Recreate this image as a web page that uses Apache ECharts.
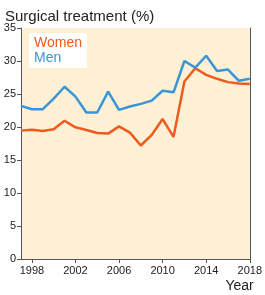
<!DOCTYPE html>
<html>
<head>
<meta charset="utf-8">
<script src="https://cdn.jsdelivr.net/npm/echarts@6/dist/echarts.min.js"></script>
<style>
  html, body { margin: 0; padding: 0; background: #fff; }
  #chart { width: 265px; height: 295px; }
</style>
</head>
<body>
<div id="chart"></div>
<script>
// years 1997..2018
const years = [1997, 1998, 1999, 2000, 2001, 2002, 2003, 2004, 2005, 2006, 2007,
  2008, 2009, 2010, 2011, 2012, 2013, 2014, 2015, 2016, 2017, 2018];
const women = [19.45, 19.6, 19.4, 19.65, 20.95, 19.95, 19.55, 19.1, 19.0, 20.1, 19.15,
  17.2, 18.8, 21.2, 18.5, 26.9, 28.9, 27.9, 27.3, 26.8, 26.6, 26.5];
const men = [23.2, 22.7, 22.7, 24.3, 26.1, 24.6, 22.2, 22.2, 25.35, 22.6, 23.1,
  23.5, 24.0, 25.5, 25.25, 30.0, 29.0, 30.8, 28.5, 28.7, 27.0, 27.3];
const tickYears = [1998, 2002, 2006, 2010, 2014, 2018];

const chart = echarts.init(document.getElementById("chart"), null, { renderer: "canvas" });
const font = "Liberation Sans, Arial, sans-serif";
const axisColor = "#555";

// only label / tick the years in tickYears
const showTick = (idx) => tickYears.indexOf(years[idx]) >= 0;

chart.setOption({
  animation: false,
  textStyle: { fontFamily: font },
  title: {
    text: "Surgical treatment (%)",
    left: 0,
    top: 4,
    textStyle: { fontSize: 15, fontWeight: "normal", color: "#222", fontFamily: font },
  },
  legend: {
    orient: "vertical",
    left: 29,
    top: 33,
    padding: [3, 5, 3, 0],
    itemGap: 1,
    backgroundColor: "#fff",
    icon: "none",
    itemWidth: 0,
    textStyle: { fontSize: 14, fontFamily: font },
    data: [
      { name: "Women", textStyle: { color: "#f05a1e" } },
      { name: "Men", textStyle: { color: "#3a95d6" } },
    ],
  },
  grid: { left: 21, right: 11, top: 28, bottom: 36, show: true, backgroundColor: "#fdf0d4", borderWidth: 0 },
  xAxis: {
    type: "category",
    data: years,
    boundaryGap: false,
    name: "Year",
    nameLocation: "end",
    nameGap: 0,
    nameTextStyle: { fontSize: 14, color: "#222", align: "right", verticalAlign: "top", padding: [20, -4, 0, 0] },
    axisLine: { lineStyle: { color: axisColor, width: 1 } },
    axisTick: { interval: showTick, length: 4, lineStyle: { color: axisColor } },
    axisLabel: { interval: showTick, fontSize: 11, color: "#222", margin: 6 },
    splitLine: { show: false },
  },
  yAxis: [
    {
      type: "value",
      min: 0,
      max: 35,
      interval: 5,
      axisLine: { show: true, lineStyle: { color: axisColor, width: 1 } },
      axisTick: { show: true, length: 4, lineStyle: { color: axisColor } },
      axisLabel: { fontSize: 11, color: "#222", margin: 5 },
      splitLine: { show: false },
    },
    {
      type: "value",
      min: 0,
      max: 35,
      position: "right",
      axisLine: { show: true, lineStyle: { color: axisColor, width: 1 } },
      axisTick: { show: false },
      axisLabel: { show: false },
      splitLine: { show: false },
    },
  ],
  series: [
    {
      name: "Women",
      type: "line",
      data: women,
      symbol: "none",
      color: "#f05a1e",
      lineStyle: { width: 2.5, color: "#f05a1e" },
    },
    {
      name: "Men",
      type: "line",
      data: men,
      symbol: "none",
      color: "#3a95d6",
      lineStyle: { width: 2.5, color: "#3a95d6" },
    },
  ],
});
</script>
</body>
</html>
